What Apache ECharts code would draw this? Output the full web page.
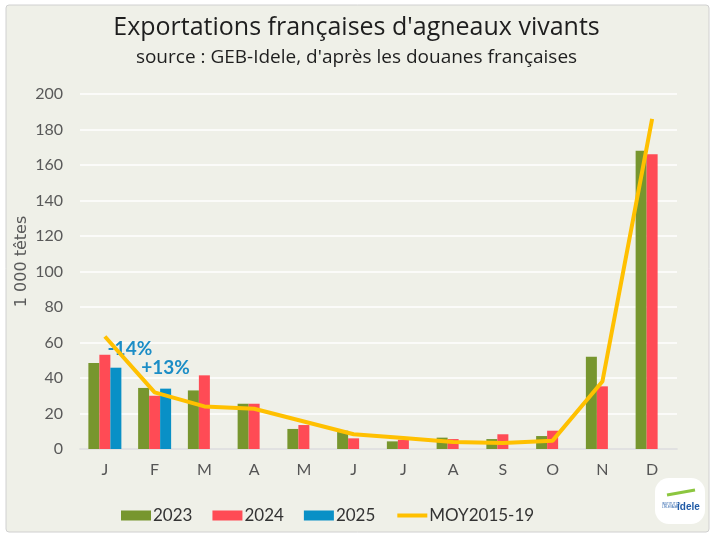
<!DOCTYPE html>
<html>
<head>
<meta charset="utf-8">
<script src="https://cdn.jsdelivr.net/npm/echarts@6/dist/echarts.min.js"></script>
<style>
  html, body { margin: 0; padding: 0; background: #fff; }
  #chart { width: 713px; height: 535px; }
</style>
</head>
<body>
<div id="chart"></div>
<script>
// months and yearly exports (1 000 head)
const months = ["J", "F", "M", "A", "M", "J", "J", "A", "S", "O", "N", "D"];
const y2023 = [48.5, 34.4, 33, 25.5, 11.3, 10.3, 4.3, 6.4, 5.6, 7.3, 52, 168];
const y2024 = [53.1, 30, 41.5, 25.5, 13.5, 6, 5.2, 5.6, 8.3, 10.3, 35.3, 166];
const y2025 = [45.8, 34, null, null, null, null, null, null, null, null, null, null];
const moy = [63.4, 31.9, 24, 22.7, 15.5, 8.3, 6.2, 3.9, 3.4, 4.7, 38, 186];
const changes2025 = ["-14%", "+13%"];

const font = "Lato, 'Open Sans', sans-serif";

const chart = echarts.init(document.getElementById("chart"));

const option = {
  backgroundColor: "#fff",
  animation: false,
  graphic: [
    {
      type: "rect",
      shape: { x: 6, y: 5, width: 703, height: 527, r: 3 },
      style: { fill: "#eff0e8", stroke: "#d0d0d0", lineWidth: 1 },
      z: -10
    },
    {
      type: "text",
      left: "center",
      top: 15,
      style: {
        text: "Exportations françaises d'agneaux vivants",
        font: "25px 'Open Sans', sans-serif",
        fill: "#1e1e1e"
      }
    },
    {
      type: "text",
      left: "center",
      top: 48,
      style: {
        text: "source : GEB-Idele, d'après les douanes françaises",
        font: "19px 'Open Sans', sans-serif",
        fill: "#1e1e1e"
      }
    },
    {
      // idele logo badge
      type: "group",
      left: 655,
      top: 478,
      children: [
        {
          type: "rect",
          shape: { x: 0, y: 0, width: 50, height: 46, r: 14 },
          style: { fill: "#ffffff" }
        },
        {
          type: "text",
          style: { x: 22, y: 24, text: "idele", font: "bold 10px sans-serif", fill: "#1f5aa6" }
        },
        {
          type: "text",
          style: { x: 7, y: 25, text: "INSTITUT DE\nL'ÉLEVAGE", font: "3px sans-serif", fill: "#1f5aa6" }
        },
        {
          type: "line",
          shape: { x1: 12, y1: 17, x2: 40, y2: 12 },
          style: { stroke: "#8cc63f", lineWidth: 3 }
        }
      ]
    }
  ],
  legend: {
    left: 116,
    top: 502,
    itemWidth: 30,
    itemHeight: 10,
    itemGap: 20,
    textStyle: { fontFamily: font, fontSize: 17, color: "#333", padding: [0, 0, 0, -3] },
    data: [
      { name: "2023", icon: "rect" },
      { name: "2024", icon: "rect" },
      { name: "2025", icon: "rect" },
      { name: "MOY2015-19", itemStyle: { opacity: 0 }, lineStyle: { width: 4 } }
    ]
  },
  grid: { left: 80, right: 36, top: 94, bottom: 86 },
  xAxis: {
    type: "category",
    data: months,
    axisLine: { lineStyle: { color: "#d9d9d9", width: 1.5 } },
    axisTick: { show: false },
    axisLabel: { fontFamily: font, fontSize: 16, color: "#555", margin: 13 }
  },
  yAxis: {
    type: "value",
    min: 0,
    max: 200,
    interval: 20,
    name: "1 000 têtes",
    nameLocation: "middle",
    nameGap: 50,
    nameMoveOverlap: false,
    nameTextStyle: {
      fontFamily: "'DejaVu Sans', sans-serif",
      fontSize: 16,
      color: "#595959",
      padding: [0, 0, 0, 20]
    },
    axisLine: { show: false },
    axisTick: { show: false },
    axisLabel: { fontFamily: font, fontSize: 16, color: "#595959", margin: 17 },
    splitLine: { lineStyle: { color: "#ffffff", width: 1.5 } }
  },
  series: [
    {
      name: "2023",
      type: "bar",
      data: y2023,
      barWidth: 11,
      barGap: "0%",
      itemStyle: { color: "#77962e" }
    },
    {
      name: "2024",
      type: "bar",
      data: y2024,
      barWidth: 11,
      barGap: "0%",
      itemStyle: { color: "#ff4b55" }
    },
    {
      name: "2025",
      type: "bar",
      barWidth: 11,
      barGap: "0%",
      itemStyle: { color: "#0990c6" },
      data: y2025.map((v, i) =>
        i < changes2025.length
          ? {
              value: v,
              label: {
                show: true,
                position: "top",
                formatter: changes2025[i],
                offset: i === 0 ? [14, -4] : [0, -6],
                fontFamily: font,
                fontWeight: "bold",
                fontSize: 19,
                color: "#1b8dc6"
              }
            }
          : v
      )
    },
    {
      name: "MOY2015-19",
      type: "line",
      data: moy,
      symbol: "none",
      lineStyle: { color: "#ffc000", width: 4 },
      itemStyle: { color: "#ffc000" },
      z: 5
    }
  ]
};

chart.setOption(option);
</script>
</body>
</html>
